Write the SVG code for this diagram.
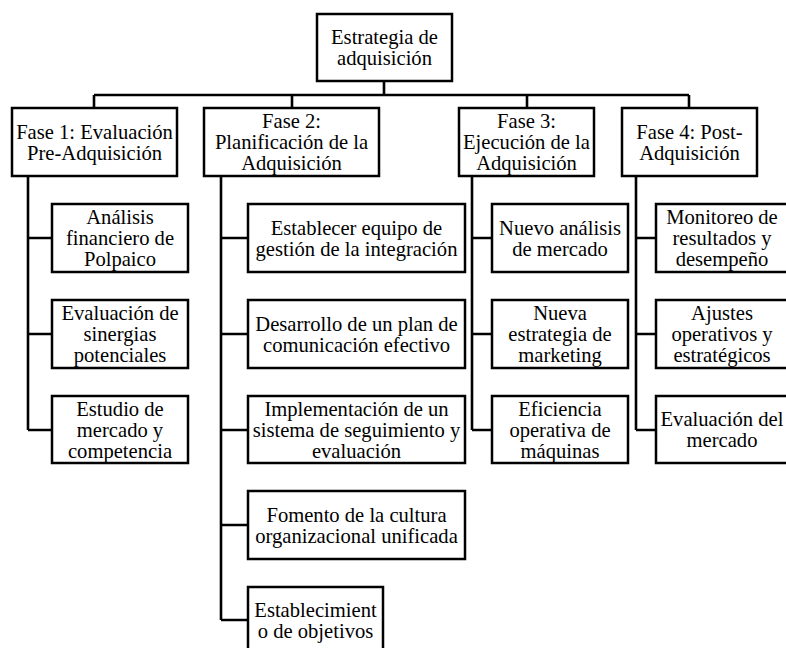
<svg xmlns="http://www.w3.org/2000/svg" width="786" height="648" viewBox="0 0 786 648">
<style>
.box{fill:#fff;stroke:#000;stroke-width:2.5}
.ln{fill:none;stroke:#000;stroke-width:2.6}
text{font-family:'Liberation Serif',serif;font-size:20.6px;fill:#000;text-anchor:middle}
</style>
<rect width="786" height="648" fill="#fff"/>
<g id="connectors">
<path class="ln" d="M384 81V95M94 95H689M94 95V108M292 95V108M527 95V108M689 95V108"/>
<path class="ln" d="M28 176V430M28 238H52M28 334H52M28 430H52"/>
<path class="ln" d="M221 176V620M221 238H248M221 334H248M221 430H248M221 525H248M221 620H248"/>
<path class="ln" d="M472 176V430M472 238H492M472 334H492M472 430H492"/>
<path class="ln" d="M636 176V430M636 238H656M636 334H656M636 430H656"/>
</g>
<g id="root"><rect class="box" x="317" y="14" width="135" height="67"/><text x="384.5" y="44">Estrategia de</text><text x="384.5" y="65">adquisición</text></g>
<g id="fase1"><rect class="box" x="12" y="108" width="165" height="68"/><text x="94.5" y="138.5">Fase 1: Evaluación</text><text x="94.5" y="160">Pre-Adquisición</text></g>
<g id="fase2"><rect class="box" x="204" y="108" width="175" height="68"/><text x="291.5" y="128">Fase 2:</text><text x="291.5" y="149">Planificación de la</text><text x="291.5" y="170">Adquisición</text></g>
<g id="fase3"><rect class="box" x="459" y="108" width="135" height="68"/><text x="526.5" y="128">Fase 3:</text><text x="526.5" y="149">Ejecución de la</text><text x="526.5" y="170">Adquisición</text></g>
<g id="fase4"><rect class="box" x="622" y="108" width="135" height="68"/><text x="689.5" y="138.5">Fase 4: Post-</text><text x="689.5" y="160">Adquisición</text></g>

<g id="c1a"><rect class="box" x="52" y="204" width="136" height="68"/><text x="120" y="224">Análisis</text><text x="120" y="245">financiero de</text><text x="120" y="266">Polpaico</text></g>
<g id="c1b"><rect class="box" x="52" y="300" width="136" height="68"/><text x="120" y="320">Evaluación de</text><text x="120" y="341">sinergias</text><text x="120" y="362">potenciales</text></g>
<g id="c1c"><rect class="box" x="52" y="396" width="136" height="67"/><text x="120" y="416">Estudio de</text><text x="120" y="437">mercado y</text><text x="120" y="458">competencia</text></g>

<g id="c2a"><rect class="box" x="248" y="204" width="217" height="68"/><text x="356.5" y="234.5">Establecer equipo de</text><text x="356.5" y="255.5">gestión de la integración</text></g>
<g id="c2b"><rect class="box" x="248" y="300" width="217" height="68"/><text x="356.5" y="330.5">Desarrollo de un plan de</text><text x="356.5" y="351.5">comunicación efectivo</text></g>
<g id="c2c"><rect class="box" x="248" y="396" width="217" height="67"/><text x="356.5" y="416">Implementación de un</text><text x="356.5" y="437">sistema de seguimiento y</text><text x="356.5" y="458">evaluación</text></g>
<g id="c2d"><rect class="box" x="248" y="491" width="217" height="68"/><text x="356.5" y="521.5">Fomento de la cultura</text><text x="356.5" y="542.5">organizacional unificada</text></g>
<g id="c2e"><rect class="box" x="248" y="587" width="135" height="68"/><text x="315.5" y="616.5">Establecimient</text><text x="315.5" y="637.5">o de objetivos</text></g>

<g id="c3a"><rect class="box" x="492" y="204" width="136" height="68"/><text x="560" y="234.5">Nuevo análisis</text><text x="560" y="255.5">de mercado</text></g>
<g id="c3b"><rect class="box" x="492" y="300" width="136" height="68"/><text x="560" y="320">Nueva</text><text x="560" y="341">estrategia de</text><text x="560" y="362">marketing</text></g>
<g id="c3c"><rect class="box" x="492" y="396" width="136" height="67"/><text x="560" y="416">Eficiencia</text><text x="560" y="437">operativa de</text><text x="560" y="458">máquinas</text></g>

<g id="c4a"><rect class="box" x="656" y="204" width="136" height="68"/><text x="722" y="224">Monitoreo de</text><text x="722" y="245">resultados y</text><text x="722" y="266">desempeño</text></g>
<g id="c4b"><rect class="box" x="656" y="300" width="136" height="68"/><text x="722" y="320">Ajustes</text><text x="722" y="341">operativos y</text><text x="722" y="362">estratégicos</text></g>
<g id="c4c"><rect class="box" x="656" y="396" width="136" height="67"/><text x="722" y="426">Evaluación del</text><text x="722" y="447">mercado</text></g>
</svg>
